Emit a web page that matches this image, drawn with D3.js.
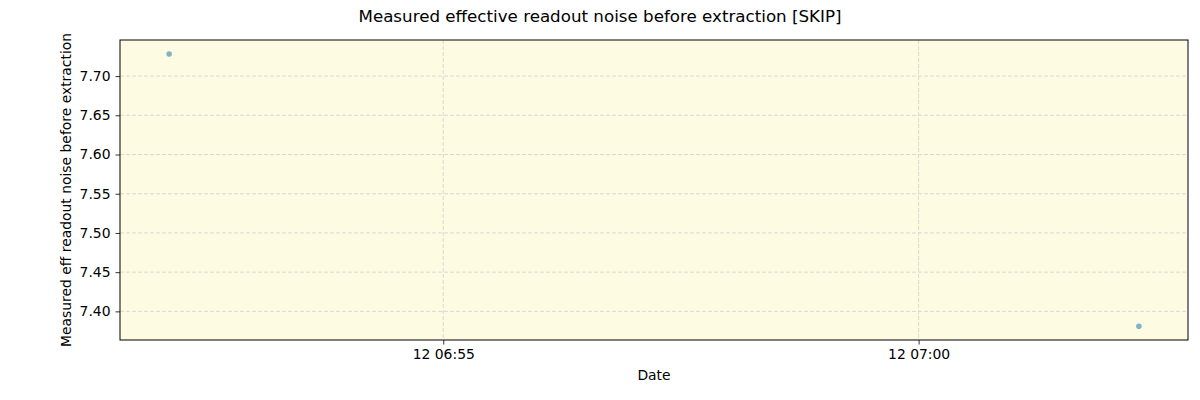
<!DOCTYPE html>
<html><head><meta charset="utf-8">
<script src="https://cdn.jsdelivr.net/npm/d3@7"></script>
<style>
body{margin:0;background:#fff;}
svg{font-family:"DejaVu Sans",sans-serif;}
</style></head>
<body><svg id="c" width="1200" height="400"></svg>
<script>
const dates = ["2024-01-12T06:52:07Z", "2024-01-12T07:02:19Z"];
const values = [7.728, 7.381];
const xDomain = ["2024-01-12T06:51:36Z", "2024-01-12T07:02:50Z"];
const yDomain = [7.3635, 7.746];
const yTicks = [7.40, 7.45, 7.50, 7.55, 7.60, 7.65, 7.70];
const xTicks = ["2024-01-12T06:55:00Z", "2024-01-12T07:00:00Z"];
const title = "Measured effective readout noise before extraction [SKIP]";
const xLabel = "Date";
const yLabel = "Measured eff readout noise before extraction";

const svg = d3.select("#c");
const L = 120, R = 1188, T = 40, B = 340;
const x = d3.scaleUtc().domain(xDomain.map(d => new Date(d))).range([L, R]);
const y = d3.scaleLinear().domain(yDomain).range([B, T]);

svg.append("rect").attr("x", L).attr("y", T).attr("width", R - L).attr("height", B - T).attr("fill", "#fdfce3");

// grid
svg.append("g").selectAll("line").data(yTicks).join("line")
  .attr("x1", L).attr("x2", R).attr("y1", d => y(d)).attr("y2", d => y(d))
  .attr("stroke", "#cfcfcf").attr("stroke-width", 0.8).attr("stroke-dasharray", "4,2");
svg.append("g").selectAll("line").data(xTicks).join("line")
  .attr("y1", T).attr("y2", B).attr("x1", d => x(new Date(d))).attr("x2", d => x(new Date(d)))
  .attr("stroke", "#cfcfcf").attr("stroke-width", 0.8).attr("stroke-dasharray", "4,2");

// axes
const xAxis = d3.axisBottom(x).tickValues(xTicks.map(d => new Date(d))).tickFormat(d3.utcFormat("%d %H:%M")).tickSize(4.5).tickPadding(5);
const yAxis = d3.axisLeft(y).tickValues(yTicks).tickFormat(d3.format(".2f")).tickSize(4.5).tickPadding(5);
const gx = svg.append("g").attr("transform", `translate(0,${B})`).call(xAxis);
const gy = svg.append("g").attr("transform", `translate(${L},0)`).call(yAxis);
[gx, gy].forEach(g => {
  g.select(".domain").remove();
  g.selectAll("text").attr("font-size", 13.9).attr("fill", "#000").attr("font-family", "DejaVu Sans");
  g.selectAll("line").attr("stroke", "#000").attr("stroke-width", 0.8);
});

svg.append("rect").attr("x", L).attr("y", T).attr("width", R - L).attr("height", B - T)
  .attr("fill", "none").attr("stroke", "#000").attr("stroke-width", 1);

// points
svg.append("g").selectAll("circle").data(dates.map((d, i) => ({d: new Date(d), v: values[i]}))).join("circle")
  .attr("cx", d => x(d.d)).attr("cy", d => y(d.v)).attr("r", 2.8)
  .attr("fill", "#1f77b4").attr("fill-opacity", 0.55);

svg.append("text").attr("x", 600).attr("y", 22).attr("text-anchor", "middle").attr("font-size", 16.7).text(title);
svg.append("text").attr("x", (L + R) / 2).attr("y", 380).attr("text-anchor", "middle").attr("font-size", 13.9).text(xLabel);
svg.append("text").attr("transform", `translate(71,${(T + B) / 2}) rotate(-90)`).attr("text-anchor", "middle").attr("font-size", 13.9).text(yLabel);
</script></body></html>
